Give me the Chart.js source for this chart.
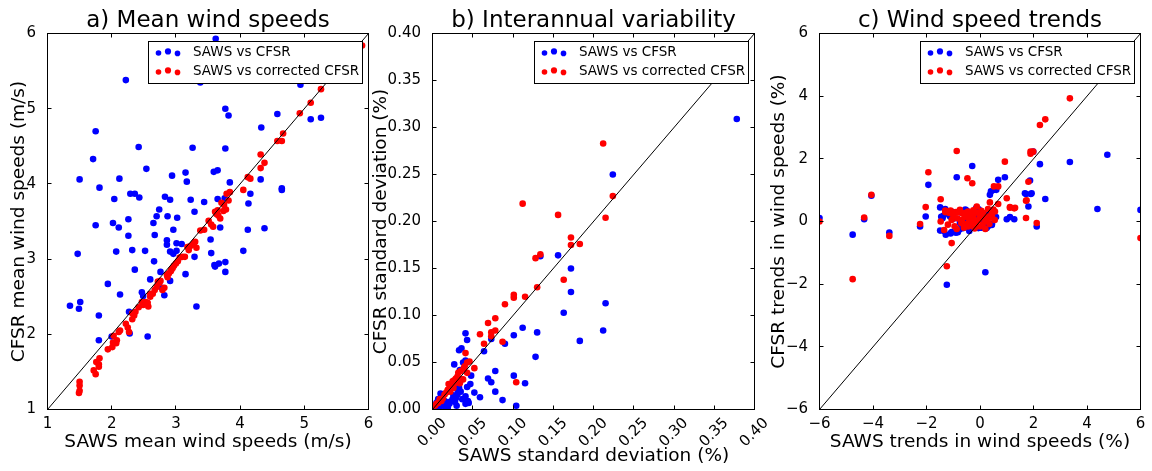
<!DOCTYPE html>
<html>
<head>
<meta charset="utf-8">
<script src="https://cdn.jsdelivr.net/npm/chart.js@4.4.1/dist/chart.umd.min.js"></script>
<style>
  html, body { margin: 0; padding: 0; background: #fff; }
  #wrap { position: relative; width: 1152px; height: 471px; overflow: hidden; }
  canvas { position: absolute; top: 0; }
</style>
</head>
<body>
<div id="wrap">
  <canvas id="chartA" width="384" height="471" style="left:0px"></canvas>
  <canvas id="chartB" width="420" height="471" style="left:350px"></canvas>
  <canvas id="chartC" width="412" height="471" style="left:740px"></canvas>
</div>
<script>
// ---- a) mean wind speeds (m/s)
const meanSawsBlue = [3.62,2.22,3.38,4.94,3.77,3.82,4.58,5.10,5.26,4.33,1.75,2.42,3.26,3.77,1.71,2.54,3.15,3.59,3.65,2.94,
  1.50,2.12,3.17,3.84,4.32,1.81,4.65,4.65,4.16,2.29,2.36,2.43,2.83,2.91,2.04,3.23,3.65,3.76,3.44,4.13,
  2.74,2.70,2.87,3.02,3.29,2.26,1.75,2.02,2.11,2.65,2.96,3.69,4.12,4.38,2.26,2.67,2.86,3.09,3.01,3.54,
  2.32,1.47,2.07,2.52,2.86,2.91,3.01,2.96,3.55,4.05,3.29,2.66,2.36,3.61,3.60,3.67,3.77,3.15,3.77,2.76,
  2.60,2.91,1.94,2.78,2.47,2.13,2.82,2.49,1.35,1.51,1.49,3.32,2.27,1.80,2.28,2.00,2.56,1.80];
const meanCfsrBlue = [5.93,5.38,5.35,5.32,5.00,4.91,4.93,4.86,4.88,4.75,4.70,4.49,4.48,4.47,4.33,4.20,4.15,4.16,4.18,4.11,
  4.06,4.07,4.03,4.02,4.06,3.95,3.94,3.92,3.87,3.87,3.87,3.82,3.83,3.79,3.80,3.79,3.80,3.81,3.76,3.74,
  3.66,3.57,3.57,3.55,3.63,3.53,3.45,3.48,3.42,3.48,3.39,3.42,3.39,3.41,3.31,3.32,3.25,3.20,3.21,3.26,
  3.12,3.07,3.10,3.11,3.19,3.10,3.11,3.07,3.08,3.11,3.03,2.97,2.86,2.90,2.92,2.94,2.96,2.80,2.83,2.83,
  2.73,2.71,2.67,2.62,2.56,2.53,2.52,2.51,2.38,2.43,2.34,2.37,2.30,2.25,2.01,1.97,1.97,1.92];
const meanSawsRed = [1.49,1.50,1.50,1.50,1.72,1.75,1.76,1.81,1.80,1.80,1.94,2.01,2.02,2.07,2.08,2.11,2.13,2.03,2.22,2.25,
  2.27,2.32,2.32,2.37,2.42,2.47,2.49,2.53,2.57,2.60,2.64,2.67,2.70,2.74,2.76,2.79,2.82,2.86,2.89,2.92,
  2.95,2.97,3.00,3.03,3.06,3.10,3.14,3.18,3.22,3.26,3.30,3.32,3.38,3.44,3.51,3.55,3.58,3.61,3.65,3.69,
  3.71,3.75,3.79,3.82,3.84,4.05,4.12,4.16,4.32,4.38,4.32,4.58,4.65,4.67,4.93,5.10,5.26,5.90,
  2.87,2.93,3.63,3.66,3.78,3.74,2.72,2.56,2.35,3.20,3.28,2.60];
const meanCfsrRed = [1.22,1.25,1.32,1.37,1.52,1.47,1.63,1.68,1.57,1.60,1.80,1.83,1.89,1.88,1.92,2.03,2.05,1.98,2.14,2.09,
  2.03,2.20,2.28,2.30,2.36,2.43,2.39,2.43,2.37,2.50,2.54,2.59,2.63,2.68,2.71,2.59,2.62,2.79,2.81,2.84,
  2.88,2.91,2.94,2.97,3.02,3.03,3.03,3.16,3.17,3.19,3.23,3.15,3.38,3.39,3.51,3.46,3.43,3.63,3.65,3.54,
  3.75,3.72,3.87,3.78,3.89,3.92,4.09,4.07,4.21,4.28,4.39,4.57,4.57,4.67,4.94,5.08,5.26,5.84,
  2.76,2.86,3.60,3.58,3.66,3.64,2.70,2.42,2.25,3.12,3.21,2.54];
const meanTicks = [1, 6];

// ---- b) interannual variability (standard deviation, %)
const sdSawsBlue = [0.378,0.224,0.156,0.134,0.172,0.172,0.163,0.215,0.212,0.183,0.130,0.112,0.101,0.128,0.115,0.101,0.104,0.087,0.090,0.078,
  0.078,0.069,0.073,0.064,0.073,0.059,0.052,0.041,0.043,0.036,0.033,0.027,0.041,0.048,0.047,0.043,0.041,0.045,0.041,0.037,
  0.031,0.031,0.027,0.024,0.020,0.015,0.010,0.007,0.005,0.003,0.009,0.013,0.022,0.034,0.030,0.018,0.026,0.012,0.038,0.028,
  0.006,0.016,0.021,0.029,0.035,0.044,0.019,0.011,0.025,0.033];
const sdCfsrBlue = [0.309,0.250,0.164,0.163,0.150,0.125,0.103,0.113,0.084,0.073,0.082,0.087,0.079,0.056,0.028,0.036,0.004,0.010,0.070,0.041,
  0.019,0.033,0.029,0.062,0.075,0.013,0.018,0.081,0.074,0.065,0.063,0.048,0.052,0.036,0.027,0.024,0.014,0.007,0.006,0.011,
  0.021,0.016,0.013,0.009,0.008,0.009,0.017,0.011,0.007,0.004,0.002,0.005,0.027,0.042,0.004,0.007,0.015,0.010,0.050,0.008,
  0.001,0.003,0.006,0.012,0.019,0.009,0.002,0.014,0.011,0.023];
const sdSawsRed = [0.212,0.224,0.215,0.112,0.156,0.172,0.172,0.183,0.163,0.128,0.134,0.130,0.101,0.101,0.115,0.090,0.078,0.069,0.078,0.073,
  0.073,0.059,0.064,0.087,0.104,0.041,0.052,0.046,0.043,0.040,0.043,0.036,0.032,0.031,0.028,0.024,0.020,0.026,0.022,0.017,
  0.013,0.009,0.007,0.003,0.011,0.034,0.038,0.030,0.015,0.005,0.019,0.027,0.035,0.029,0.021,0.039,0.025];
const sdCfsrRed = [0.283,0.227,0.204,0.219,0.207,0.183,0.175,0.176,0.138,0.161,0.165,0.130,0.122,0.119,0.120,0.112,0.097,0.092,0.084,0.082,
  0.078,0.080,0.070,0.072,0.029,0.060,0.044,0.051,0.050,0.046,0.039,0.032,0.039,0.035,0.028,0.025,0.027,0.023,0.019,0.018,
  0.012,0.011,0.007,0.004,0.009,0.028,0.032,0.030,0.016,0.006,0.021,0.031,0.041,0.033,0.022,0.044,0.030];
const sdTicks = [0, 0.4];

// ---- c) wind speed trends (%)
const trendSawsBlue = [-6.0,-4.76,-4.33,-4.06,-3.39,-2.24,-2.03,-1.93,-1.49,-1.49,-1.37,-1.28,-1.24,-1.06,-0.87,-0.83,-0.62,-0.50,-0.29,-0.12,
  -0.06,-0.05,0.20,0.25,0.37,0.41,0.52,0.68,0.61,0.44,0.60,0.93,1.00,1.12,1.28,1.72,1.81,1.90,1.87,1.99,
  2.12,2.24,2.44,3.36,4.39,4.76,6.0,-0.37,0.12,-0.75,-1.12,-1.2,-0.95,-0.45,-0.2,0.05,0.3,-1.4,-0.7,0.15,
  -1.45,-1.35,-1.30,-1.10,-0.90,-0.75,-0.55,-0.40,-0.15,0.05,0.30,0.45,0.55,-1.00,-0.60,1.93,1.68];
const trendCfsrBlue = [0.11,-0.42,0.07,0.82,-0.35,-0.16,0.16,1.17,0.45,-0.29,0.18,-0.42,-2.02,-0.34,1.41,-0.34,-0.21,0.35,1.77,0.18,
  -0.21,0.39,-1.62,-0.21,0.85,0.96,1.01,1.33,1.01,-0.11,0.14,1.41,0.07,0.14,0.07,0.88,0.48,0.88,1.31,2.23,
  -0.16,1.83,0.72,1.90,0.40,2.13,0.37,0.05,0.05,-0.05,0.16,0.25,0.1,-0.05,0.3,-0.18,0.22,0.1,0.28,-0.1,
  0.15,-0.30,0.40,-0.38,-0.36,-0.25,0.38,-0.30,0.42,-0.20,-0.15,-0.08,0.10,0.30,0.02,0.90,0.90];
const trendSawsRed = [-6.0,-4.76,-4.33,-4.06,-3.39,-2.24,-2.03,-1.93,-1.47,-1.47,-1.34,-1.24,-1.06,-1.15,-0.87,-0.47,-0.29,-0.87,-0.68,-0.56,
  -0.37,-0.25,0.0,0.20,0.37,0.52,0.68,0.68,0.93,1.00,1.12,1.28,1.72,1.72,1.81,1.89,1.89,1.99,2.12,2.24,
  2.44,3.36,6.0,-0.12,0.12,0.31,-0.44,-1.06,-0.75,0.25,0.44,0.56,-0.06,-0.22,-0.50,-1.3,-0.9,0.05,-0.3,0.4,
  -1.30,-1.20,-1.10,-1.00,-0.95,-0.85,-0.80,-0.70,-0.65,-0.60,-0.55,-0.45,-0.40,-0.35,-0.30,-0.25,-0.15,-0.10,0.00,0.05,
  0.10,0.15,0.20,0.30,0.35,0.45,0.50,0.55,-0.20,-0.50,1.12,1.31,1.74];
const trendCfsrRed = [0.0,-1.84,0.13,0.85,-0.46,-0.08,0.46,1.57,0.71,0.0,-0.27,-1.43,-0.69,0.27,2.25,1.38,1.22,-0.24,0.05,0.27,
  0.27,0.16,-0.16,-0.24,0.61,1.12,1.12,0.56,1.91,0.74,0.46,0.42,0.66,0.11,1.27,2.23,2.16,2.23,-0.05,3.08,
  3.26,3.93,-0.53,0.48,0.27,0.16,-0.16,0.05,0.37,0.05,0.27,0.32,0.05,0.0,-0.07,0.35,0.3,0.2,0.1,0.12,
  0.30,-0.10,0.35,0.20,-0.15,0.10,0.30,-0.05,0.25,-0.20,0.15,0.32,0.05,-0.12,0.22,0.36,-0.04,0.28,0.12,0.34,
  -0.10,0.20,0.02,0.40,-0.08,0.15,0.38,0.05,-0.22,0.18,0.44,0.44,0.68];
const trendTicks = [-6, 6];

const seriesNames = ['SAWS vs CFSR', 'SAWS vs corrected CFSR'];
const seriesColors = ['#0000ff', '#ff0000'];

Chart.defaults.font.family = "'DejaVu Sans', sans-serif";
Chart.defaults.color = '#000';

function pairs(xs, ys) {
  return xs.map((v, i) => ({ x: v, y: ys[i] }));
}

// matplotlib-like frame, inward ticks and in-axes legend
const mplFrame = {
  id: 'mplFrame',
  afterDatasetsDraw(chart) {
    const { ctx, chartArea: a, scales } = chart;
    const tl = 4;
    ctx.save();
    ctx.strokeStyle = '#000';
    ctx.lineWidth = 1;
    ctx.beginPath();
    scales.x.ticks.forEach(t => {
      const px = Math.round(scales.x.getPixelForValue(t.value) - 0.5) + 0.5;
      ctx.moveTo(px, a.bottom); ctx.lineTo(px, a.bottom - tl);
      ctx.moveTo(px, a.top); ctx.lineTo(px, a.top + tl);
    });
    scales.y.ticks.forEach(t => {
      const py = Math.round(scales.y.getPixelForValue(t.value) - 0.5) + 0.5;
      ctx.moveTo(a.left, py); ctx.lineTo(a.left + tl, py);
      ctx.moveTo(a.right, py); ctx.lineTo(a.right - tl, py);
    });
    ctx.stroke();
    ctx.strokeRect(a.left, a.top, a.right - a.left, a.bottom - a.top);

    // legend box
    const w = 214, h = 42;
    const bx = Math.round(a.right - 6.5 - w) + 0.5;
    const by = Math.round(a.top + 7);
    ctx.fillStyle = '#fff';
    ctx.fillRect(bx, by + 0.5, w, h);
    ctx.strokeRect(bx, by + 0.5, w, h);
    ctx.font = "13.5px 'DejaVu Sans'";
    ctx.textBaseline = 'middle';
    ctx.textAlign = 'left';
    const dy = [1, -0.6, 1.4];
    seriesNames.forEach((name, i) => {
      const cy = by + 11 + i * 19;
      ctx.fillStyle = seriesColors[i];
      [10, 19.5, 29].forEach((dx, k) => {
        ctx.beginPath();
        ctx.arc(bx + dx, cy + dy[k], k === 1 ? 3.1 : 2.8, 0, Math.PI * 2);
        ctx.fill();
      });
      ctx.fillStyle = '#000';
      ctx.fillText(name, bx + 44.5, cy);
    });
    ctx.restore();
  }
};

function makeChart(id, cfg) {
  const tickFont = { size: 15, lineHeight: 1.2 };
  const labelFont = { size: 18.5, lineHeight: 1.2 };
  return new Chart(document.getElementById(id), {
    type: 'scatter',
    data: {
      datasets: [
        { label: 'one to one', data: pairs(cfg.diag, cfg.diag), showLine: true, borderColor: '#000',
          borderWidth: 1, pointRadius: 0, order: 0 },
        { label: seriesNames[0], data: pairs(cfg.blueX, cfg.blueY), backgroundColor: seriesColors[0],
          borderWidth: 0, pointRadius: 3.3, order: 2 },
        { label: seriesNames[1], data: pairs(cfg.redX, cfg.redY), backgroundColor: seriesColors[1],
          borderWidth: 0, pointRadius: 3.3, order: 1 }
      ]
    },
    options: {
      responsive: false,
      animation: false,
      devicePixelRatio: 1,
      layout: { padding: { left: 0, top: 0, bottom: 0, right: cfg.padRight } },
      plugins: {
        legend: { display: false },
        tooltip: { enabled: false },
        title: {
          display: true, text: cfg.title, fullSize: false,
          font: { size: 23, weight: 'normal', lineHeight: 1.0 },
          padding: { top: 10, bottom: 0.5 }, color: '#000'
        }
      },
      scales: {
        x: {
          type: 'linear', min: cfg.diag[0], max: cfg.diag[1],
          afterFit: s => { s.height = 61.5; },
          grid: { display: false }, border: { display: false },
          ticks: {
            stepSize: cfg.step, autoSkip: false, font: tickFont, color: '#000',
            padding: cfg.xTickPad, minRotation: cfg.rot, maxRotation: cfg.rot,
            labelOffset: cfg.labelOffset, callback: cfg.fmt
          },
          title: { display: true, text: cfg.xLabel, font: labelFont, color: '#000',
                   padding: { top: 0, bottom: cfg.xTitlePad } }
        },
        y: {
          type: 'linear', min: cfg.diag[0], max: cfg.diag[1],
          afterFit: s => { s.width = cfg.yWidth; },
          grid: { display: false }, border: { display: false },
          ticks: { stepSize: cfg.step, autoSkip: false, font: tickFont, color: '#000', padding: 3.5,
                   callback: cfg.fmt },
          title: { display: true, text: cfg.yLabel, font: labelFont, color: '#000',
                   padding: { top: cfg.yTitlePad, bottom: 0 } }
        }
      }
    },
    plugins: [mplFrame]
  });
}

const minus = v => (v < 0 ? '\u2212' + Math.abs(v) : String(v));

makeChart('chartA', {
  title: 'a) Mean wind speeds',
  xLabel: 'SAWS mean wind speeds (m/s)', yLabel: 'CFSR mean wind speeds (m/s)',
  blueX: meanSawsBlue, blueY: meanCfsrBlue, redX: meanSawsRed, redY: meanCfsrRed,
  diag: meanTicks, step: 1, fmt: v => String(v),
  yWidth: 47.5, padRight: 15.5, yTitlePad: 8.5, xTitlePad: 18, xTickPad: -2, rot: 0, labelOffset: 0
});

makeChart('chartB', {
  title: 'b) Interannual variability',
  xLabel: 'SAWS standard deviation (%)', yLabel: 'CFSR standard deviation (%)',
  blueX: sdSawsBlue, blueY: sdCfsrBlue, redX: sdSawsRed, redY: sdCfsrRed,
  diag: sdTicks, step: 0.05, fmt: v => Number(v).toFixed(2),
  yWidth: 82.5, padRight: 15.5, yTitlePad: 19.7, xTitlePad: 4, xTickPad: -3, rot: 45, labelOffset: 11.7
});

makeChart('chartC', {
  title: 'c) Wind speed trends',
  xLabel: 'SAWS trends in wind speeds (%)', yLabel: 'CFSR trends in wind speeds (%)',
  blueX: trendSawsBlue, blueY: trendCfsrBlue, redX: trendSawsRed, redY: trendCfsrRed,
  diag: trendTicks, step: 2, fmt: minus,
  yWidth: 79.5, padRight: 11.5, yTitlePad: 27.7, xTitlePad: 18, xTickPad: -2, rot: 0, labelOffset: 0
});
</script>
</body>
</html>
